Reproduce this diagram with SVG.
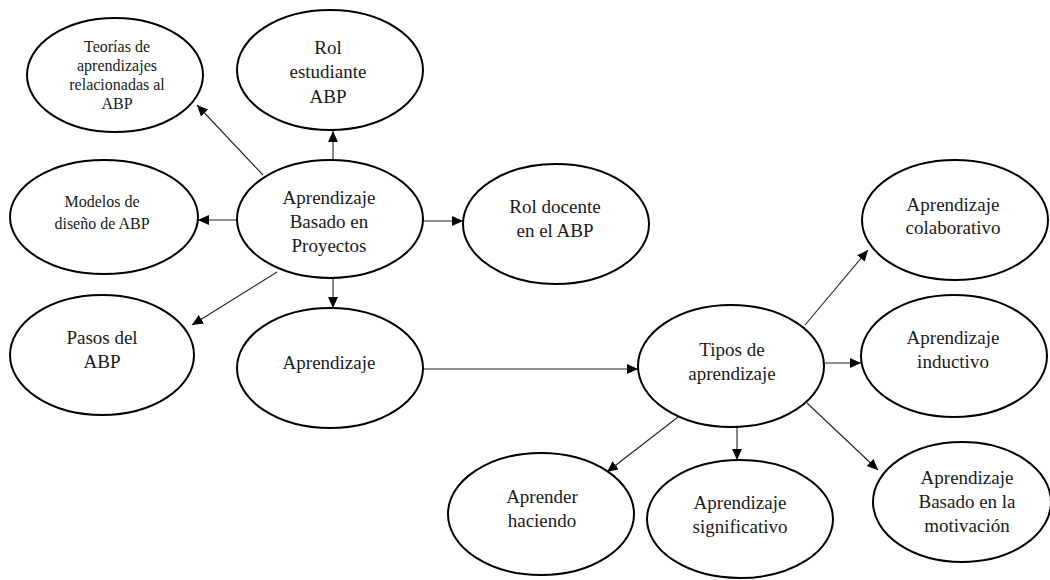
<svg xmlns="http://www.w3.org/2000/svg" width="1050" height="580" viewBox="0 0 1050 580">
  <style>
    .node ellipse { fill: #ffffff; stroke: #000000; stroke-width: 2; }
    .node text { font-family: 'Liberation Serif', 'Times New Roman', serif; font-size: 19px; fill: #1a1a1a; text-anchor: middle; }
    .node.small text { font-size: 16px; }
    .edge { stroke: #222222; stroke-width: 1.1; fill: none; marker-end: url(#arrow); }
  </style>
  <defs>
    <marker id="arrow" markerUnits="userSpaceOnUse" markerWidth="12" markerHeight="10" refX="11" refY="5" orient="auto">
      <path d="M0,0 L11,5 L0,10 Z" fill="#000000"/>
    </marker>
  </defs>

  <rect width="1050" height="580" fill="#ffffff"/>

  <!-- connectors -->
  <g id="connectors">
    <line class="edge" x1="263" y1="175" x2="197" y2="105"/>
    <line class="edge" x1="333" y1="160" x2="333" y2="131"/>
    <line class="edge" x1="237" y1="220" x2="198" y2="220"/>
    <line class="edge" x1="422" y1="221" x2="463" y2="221"/>
    <line class="edge" x1="277" y1="272" x2="192" y2="325"/>
    <line class="edge" x1="333" y1="277" x2="333" y2="308"/>
    <line class="edge" x1="422" y1="369" x2="638" y2="369"/>
    <line class="edge" x1="805" y1="325" x2="868" y2="250"/>
    <line class="edge" x1="825" y1="363" x2="861" y2="363"/>
    <line class="edge" x1="678" y1="417" x2="607" y2="472"/>
    <line class="edge" x1="737" y1="427" x2="737" y2="460"/>
    <line class="edge" x1="807" y1="403" x2="878" y2="470"/>
  </g>

  <!-- nodes -->
  <g id="teorias" class="node small">
    <ellipse cx="115" cy="75" rx="88" ry="57"/>
    <text x="117" y="52">Teorías de</text>
    <text x="117" y="71">aprendizajes</text>
    <text x="117" y="90">relacionadas al</text>
    <text x="117" y="109">ABP</text>
  </g>

  <g id="rol-estudiante" class="node">
    <ellipse cx="330" cy="70" rx="93" ry="60"/>
    <text x="328" y="54">Rol</text>
    <text x="328" y="78">estudiante</text>
    <text x="328" y="103">ABP</text>
  </g>

  <g id="modelos" class="node small">
    <ellipse cx="104" cy="217" rx="94" ry="57"/>
    <text x="102" y="207">Modelos de</text>
    <text x="102" y="229">diseño de ABP</text>
  </g>

  <g id="abp" class="node">
    <ellipse cx="330" cy="219" rx="93" ry="59"/>
    <text x="329" y="204">Aprendizaje</text>
    <text x="329" y="228">Basado en</text>
    <text x="329" y="252">Proyectos</text>
  </g>

  <g id="rol-docente" class="node">
    <ellipse cx="556" cy="224" rx="93" ry="60"/>
    <text x="555" y="213">Rol docente</text>
    <text x="555" y="237">en el ABP</text>
  </g>

  <g id="pasos" class="node">
    <ellipse cx="102" cy="355" rx="92" ry="60"/>
    <text x="102" y="344">Pasos del</text>
    <text x="102" y="368">ABP</text>
  </g>

  <g id="aprendizaje" class="node">
    <ellipse cx="330" cy="368" rx="93" ry="60"/>
    <text x="329" y="369">Aprendizaje</text>
  </g>

  <g id="tipos" class="node">
    <ellipse cx="731" cy="366" rx="93" ry="61"/>
    <text x="732" y="356">Tipos de</text>
    <text x="732" y="380">aprendizaje</text>
  </g>

  <g id="colaborativo" class="node">
    <ellipse cx="955" cy="220" rx="93" ry="60"/>
    <text x="953" y="211">Aprendizaje</text>
    <text x="953" y="234">colaborativo</text>
  </g>

  <g id="inductivo" class="node">
    <ellipse cx="954" cy="356" rx="93" ry="61"/>
    <text x="953" y="344">Aprendizaje</text>
    <text x="953" y="368">inductivo</text>
  </g>

  <g id="motivacion" class="node">
    <ellipse cx="962" cy="502" rx="89" ry="60"/>
    <text x="967" y="484">Aprendizaje</text>
    <text x="967" y="508">Basado en la</text>
    <text x="967" y="532">motivación</text>
  </g>

  <g id="haciendo" class="node">
    <ellipse cx="541" cy="514" rx="93" ry="61"/>
    <text x="542" y="503">Aprender</text>
    <text x="542" y="527">haciendo</text>
  </g>

  <g id="significativo" class="node">
    <ellipse cx="740" cy="519" rx="93" ry="59"/>
    <text x="740" y="509">Aprendizaje</text>
    <text x="740" y="533">significativo</text>
  </g>
</svg>
